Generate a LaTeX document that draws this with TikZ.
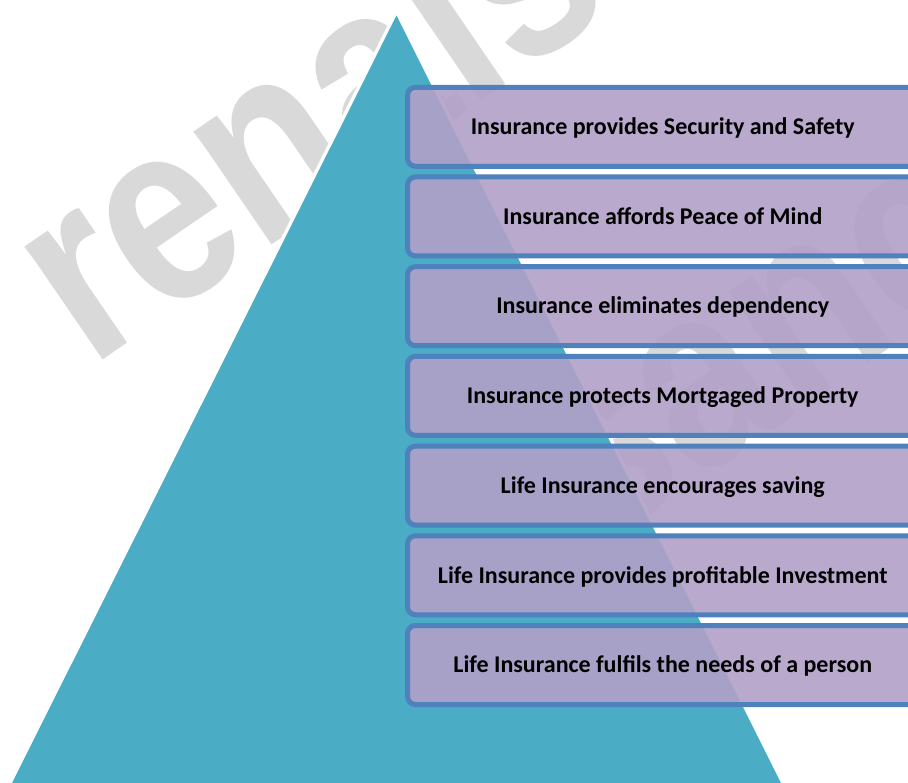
\documentclass[tikz,border=0pt]{standalone}
\usepackage{fontspec}
\usepackage{graphicx}
\setmainfont{Carlito}
\newfontfamily\wmfont{Liberation Sans}
\definecolor{teal5}{RGB}{75,172,198}
\definecolor{boxblue}{RGB}{79,129,189}
\definecolor{boxfill}{RGB}{178,160,200}
\definecolor{wmgray}{RGB}{217,217,217}
\begin{document}
\begin{tikzpicture}[x=1pt,y=-1pt,
  infobox/.style={rectangle, draw=boxblue, line width=5pt, fill=boxfill,
    fill opacity=0.9, text opacity=1, draw opacity=1, rounded corners=8pt,
    minimum width=510.5pt, minimum height=79pt, inner sep=0pt,
    text height=15.4pt, text depth=0pt, text=black,
    font=\bfseries\fontsize{24}{28}\selectfont},
  wmark/.style={anchor=base west, rotate=34.4, text=wmgray, inner sep=0pt,
    font=\wmfont\bfseries\fontsize{260}{260}\selectfont}]
\useasboundingbox (0,0) rectangle (908,783);
\clip (0,0) rectangle (908,783);
\fill[white] (0,0) rectangle (908,783);
% watermark
\node[wmark] (wm1) at (89.9,369.1) {\scalebox{0.835}[1]{renaissance}};
\node[wmark] (wm2) at (67.6,911.7) {\scalebox{0.835}[1]{renaissance}};
% pyramid
\coordinate (apex) at (396.5,15.5);
\coordinate (bl) at (8,791);
\coordinate (br) at (785,791);
\draw[white, line width=7pt, line join=round] (apex) -- (bl) -- (br) -- cycle;
\fill[teal5] (apex) -- (bl) -- (br) -- cycle;
% boxes
\node[infobox] (b1) at (662.75,126.8) {Insurance provides Security and Safety};
\node[infobox] (b2) at (662.75,216.5) {Insurance affords Peace of Mind};
\node[infobox] (b3) at (662.75,306.2) {Insurance eliminates dependency};
\node[infobox] (b4) at (662.75,395.9) {Insurance protects Mortgaged Property};
\node[infobox] (b5) at (662.75,485.6) {Life Insurance encourages saving};
\node[infobox] (b6) at (662.75,575.3) {Life Insurance provides profitable Investment};
\node[infobox] (b7) at (662.75,665.0) {Life Insurance fulfils the needs of a person};
\end{tikzpicture}
\end{document}
